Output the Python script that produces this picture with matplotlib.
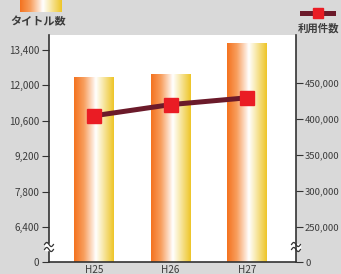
import numpy as np
import matplotlib.pyplot as plt
from matplotlib.colors import LinearSegmentedColormap
from matplotlib.patches import Rectangle

plt.rcParams['font.family'] = ['Noto Sans CJK JP', 'DejaVu Sans']

years = ["H25", "H26", "H27"]
titles = [12330, 12460, 13690]          # タイトル数 (left axis)
usage = [404500, 420000, 429500]        # 利用件数 (right axis)
left_ticks = [6400, 7800, 9200, 10600, 12000, 13400]
right_ticks = [250000, 300000, 350000, 400000, 450000]

W, H = 341, 274
fig = plt.figure(figsize=(W / 100, H / 100), dpi=100)
fig.patch.set_facecolor("#d9d9d9")

text_c = "#3c3c3c"
axis_c = "#333333"
grad = LinearSegmentedColormap.from_list(
    "bar", [(0, "#f47320"), (0.25, "#f8a060"), (0.55, "#ffffff"), (1, "#eec62a")])
gimg = np.linspace(0, 1, 64).reshape(1, -1)

ax = fig.add_axes([49 / W, 12 / H, 247 / W, 227 / H])
ax.set_facecolor("white")
ybot, ytop = 5016, 13993

x = np.arange(len(years))
bw = 0.52
for xi, v in zip(x, titles):
    im = ax.imshow(gimg, cmap=grad, aspect="auto",
                   extent=(xi - bw / 2, xi + bw / 2, ybot, v), zorder=2)
    rect = Rectangle((xi - bw / 2, ybot), bw, v - ybot, transform=ax.transData)
    im.set_clip_path(rect)
ax.set_xlim(-0.588, 2.64)
ax.set_ylim(ybot, ytop)

ax.set_xticks(x)
ax.set_xticklabels(years)
ax.set_yticks([ybot] + left_ticks)
ax.set_yticklabels(["0"] + [f"{t:,}" for t in left_ticks])
ax.tick_params(axis="y", length=5, width=0.8, colors=axis_c, labelsize=7.2,
               labelcolor=text_c, pad=2)
ax.tick_params(axis="x", length=0, labelsize=7.2, labelcolor=text_c, pad=2)
for s in ["top", "right"]:
    ax.spines[s].set_visible(False)
for s in ["left", "bottom"]:
    ax.spines[s].set_color(axis_c)
    ax.spines[s].set_linewidth(1.2)

ax2 = ax.twinx()
rbot, rtop = 201400, 516700
ax2.set_ylim(rbot, rtop)
ax2.plot(x, usage, color="#6b1a2a", lw=3.6, zorder=3,
         marker="s", ms=9.5, mfc="#ea1c24", mec="#ea1c24")
ax2.set_yticks([rbot] + right_ticks)
ax2.set_yticklabels(["0"] + [f"{t:,}" for t in right_ticks])
ax2.tick_params(axis="y", length=5, width=0.8, colors=axis_c, labelsize=6.8,
                labelcolor=text_c, pad=1.5)
for s in ["top", "left", "bottom"]:
    ax2.spines[s].set_visible(False)
ax2.spines["right"].set_color(axis_c)
ax2.spines["right"].set_linewidth(1.2)

# axis break marks
yb = 15 / 227
t = np.linspace(0, 1, 30)
for xa in (0, 1):
    ax.add_patch(Rectangle((xa - 0.015, yb - 0.014), 0.03, 0.028,
                           transform=ax.transAxes, color="white",
                           clip_on=False, zorder=5))
    for dy in (-0.011, 0.011):
        ax.plot(xa - 0.018 + 0.036 * t, yb + dy + 0.009 * np.sin(2 * np.pi * t),
                transform=ax.transAxes, color=axis_c, lw=0.9,
                clip_on=False, zorder=6)

# legend-like keys
kl = fig.add_axes([20 / W, 1 - 12 / H, 42 / W, 12 / H])
kl.imshow(gimg, cmap=grad, aspect="auto")
kl.axis("off")
fig.text(10 / W, 1 - 22 / H, "タイトル数", fontsize=8, color=text_c,
         va="center", weight="bold")

fig.add_artist(plt.Line2D([302 / W, 333 / W], [1 - 13 / H, 1 - 13 / H],
                          color="#6b1a2a", lw=3.6))
fig.add_artist(plt.Line2D([317.5 / W], [1 - 13 / H], marker="s", ms=7.5,
                          color="#ea1c24"))
fig.text(318 / W, 1 - 28 / H, "利用件数", fontsize=7.5, color=text_c,
         va="center", ha="center", weight="bold")

fig.savefig("out.png", dpi=100, facecolor=fig.get_facecolor())
